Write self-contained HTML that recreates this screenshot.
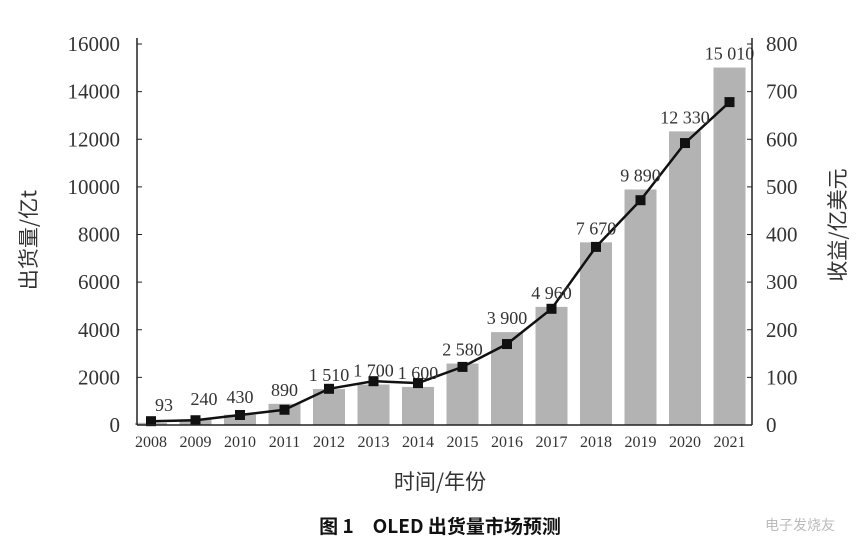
<!DOCTYPE html>
<html><head><meta charset="utf-8"><style>
html,body{margin:0;padding:0;background:#fff;}
svg text{font-family:"Liberation Serif","Noto Serif CJK SC",serif;fill:#333;}
</style></head><body>
<svg width="862" height="552" xmlns="http://www.w3.org/2000/svg">
<g id="bars" fill="#b3b3b3">
</g>
<script>
(function(){
var ns="http://www.w3.org/2000/svg",s=document.querySelector('svg');
var vals=[93,240,430,890,1510,1700,1600,2580,3900,4960,7670,9890,12330,15010];
var labs=["93","240","430","890","1 510","1 700","1 600","2 580","3 900","4 960","7 670","9 890","12 330","15 010"];
var rev=[8,10,21,32,76,92,88,122,170,244,374,472,592,678];
var y0=425,k=381/16000,kr=381/800;
var g=document.getElementById('bars');var pts=[];
for(var i=0;i<14;i++){var cx=151+i*44.5;var h=vals[i]*k;
var r=document.createElementNS(ns,'rect');r.setAttribute('x',cx-16);r.setAttribute('y',y0-h);r.setAttribute('width',32);r.setAttribute('height',h);g.appendChild(r);
var t=document.createElementNS(ns,'text');
var tx=cx,ty=y0-h-8;
if(i==0){tx=164;ty=411;} if(i==1){tx=204;ty=405;} if(i==2){ty=y0-h-12;}
t.setAttribute('x',tx);t.setAttribute('y',ty);t.setAttribute('text-anchor','middle');t.setAttribute('font-size','18');t.textContent=labs[i];s.appendChild(t);
var yl=document.createElementNS(ns,'text');yl.setAttribute('x',cx);yl.setAttribute('y',447);yl.setAttribute('text-anchor','middle');yl.setAttribute('font-size','16');yl.textContent=2008+i;s.appendChild(yl);
var py=y0-rev[i]*kr;pts.push(cx+','+py);
var m=document.createElementNS(ns,'rect');m.setAttribute('x',cx-5);m.setAttribute('y',py-5);m.setAttribute('width',10);m.setAttribute('height',10);m.setAttribute('fill','#111');m.setAttribute('id','m'+i);s.appendChild(m);}
var pl=document.createElementNS(ns,'polyline');pl.setAttribute('points',pts.join(' '));pl.setAttribute('fill','none');pl.setAttribute('stroke','#111');pl.setAttribute('stroke-width','2.5');s.insertBefore(pl,document.getElementById('m0'));
for(var j=0;j<=8;j++){var y=y0-j*381/8;
var a=document.createElementNS(ns,'text');a.setAttribute('x',120);a.setAttribute('y',y+7);a.setAttribute('text-anchor','end');a.setAttribute('font-size','21');a.textContent=(j==0?'0':(j*2000));s.appendChild(a);
var b=document.createElementNS(ns,'text');b.setAttribute('x',766);b.setAttribute('y',y+7);b.setAttribute('font-size','21');b.textContent=j*100;s.appendChild(b);
var t1=document.createElementNS(ns,'line');t1.setAttribute('x1',137);t1.setAttribute('x2',142);t1.setAttribute('y1',y);t1.setAttribute('y2',y);t1.setAttribute('stroke','#222');s.appendChild(t1);
var t2=document.createElementNS(ns,'line');t2.setAttribute('x1',747);t2.setAttribute('x2',752);t2.setAttribute('y1',y);t2.setAttribute('y2',y);t2.setAttribute('stroke','#222');s.appendChild(t2);}
})();
</script>
<line x1="137" y1="38" x2="137" y2="425" stroke="#222" stroke-width="1.5"/>
<line x1="752" y1="38" x2="752" y2="425" stroke="#222" stroke-width="1.5"/>
<line x1="137" y1="425" x2="752" y2="425" stroke="#222" stroke-width="1.5"/>
<text x="440" y="489" text-anchor="middle" font-size="21" style="font-family:'Noto Sans CJK SC',sans-serif">时间/年份</text>
<text x="440" y="533" text-anchor="middle" font-size="19" font-weight="bold" style="font-family:'Noto Sans CJK SC',sans-serif;fill:#111">图 1　OLED 出货量市场预测</text>
<text transform="translate(36,240) rotate(-90)" text-anchor="middle" font-size="21" style="font-family:'Noto Sans CJK SC',sans-serif">出货量/亿t</text>
<text transform="translate(845,225) rotate(-90)" text-anchor="middle" font-size="21" style="font-family:'Noto Sans CJK SC',sans-serif">收益/亿美元</text>
<text x="800" y="530" text-anchor="middle" font-size="14" style="font-family:'Noto Sans CJK SC',sans-serif;fill:#bbb">电子发烧友</text>
</svg>
</body></html>
